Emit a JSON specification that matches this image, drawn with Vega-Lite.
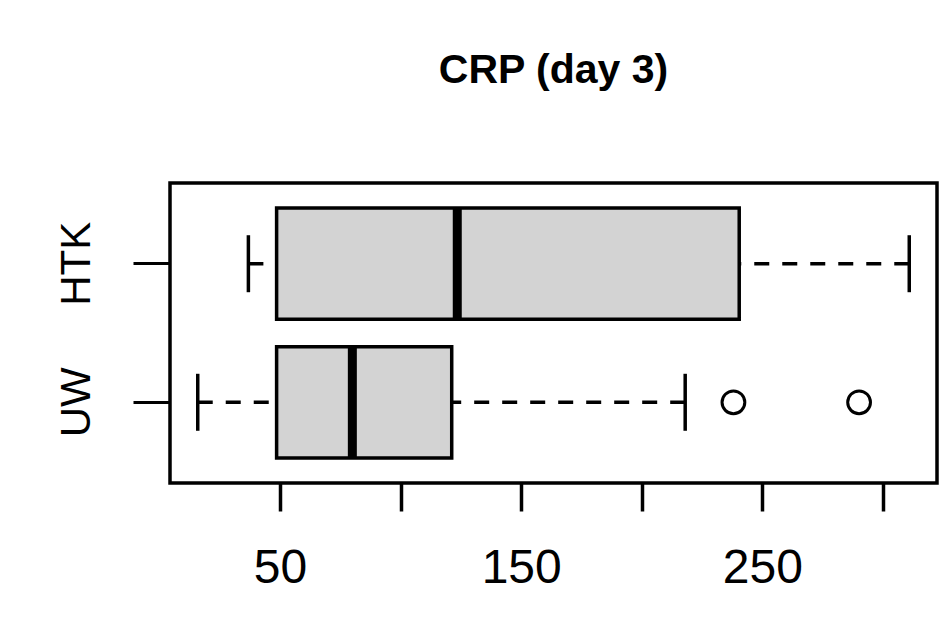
{
  "$schema": "https://vega.github.io/schema/vega-lite/v6.json",
  "autosize": "none",
  "width": 767,
  "height": 300,
  "padding": {"left": 170, "top": 183, "right": 8, "bottom": 144},
  "background": "white",
  "config": {
    "font": "Liberation Sans",
    "view": {"stroke": "black", "strokeWidth": 3.5}
  },
  "title": {
    "text": "CRP (day 3)",
    "font": "Liberation Sans",
    "fontSize": 41,
    "fontWeight": "bold",
    "color": "black",
    "anchor": "middle",
    "frame": "group",
    "baseline": "alphabetic",
    "offset": 59
  },
  "datasets": {
    "boxes": [
      {"group": "HTK", "lo": 36.9, "q1": 48.6, "med": 123.5, "q3": 240.4, "hi": 310.9},
      {"group": "UW", "lo": 15.9, "q1": 48.6, "med": 80.0, "q3": 121.2, "hi": 218.0}
    ],
    "outliers": [
      {"group": "UW", "value": 238.0},
      {"group": "UW", "value": 290.1}
    ]
  },
  "data": {"name": "boxes"},
  "encoding": {
    "y": {
      "field": "group",
      "type": "nominal",
      "sort": ["HTK", "UW"],
      "scale": {"domain": ["HTK", "UW"], "paddingInner": 0.197, "paddingOuter": 0.181},
      "axis": {
        "title": null,
        "domain": false,
        "ticks": true,
        "tickSize": 37,
        "tickWidth": 3,
        "tickColor": "black",
        "labelAngle": -90,
        "labelAlign": "center",
        "labelBaseline": "alphabetic",
        "labelPadding": 44,
        "labelFontSize": 42,
        "labelColor": "black",
        "labelFont": "Liberation Sans"
      }
    }
  },
  "layer": [
    {
      "mark": {"type": "rule", "strokeDash": [15, 13], "strokeWidth": 3.5, "color": "black"},
      "encoding": {
        "x": {
          "field": "lo",
          "type": "quantitative",
          "scale": {"domain": [4.4, 322.4], "nice": false, "zero": false},
          "axis": {
            "title": null,
            "values": [50, 100, 150, 200, 250, 300],
            "domain": false,
            "grid": false,
            "tickSize": 28,
            "tickWidth": 3.5,
            "tickColor": "black",
            "labelExpr": "datum.value % 100 == 50 ? datum.label : ''",
            "labelFontSize": 48,
            "labelColor": "black",
            "labelFont": "Liberation Sans",
            "labelPadding": 33,
            "labelBaseline": "top",
            "labelFlush": false,
            "labelOverlap": false
          }
        },
        "x2": {"field": "q1"}
      }
    },
    {
      "mark": {"type": "rule", "strokeDash": [15, 13], "strokeWidth": 3.5, "color": "black"},
      "encoding": {
        "x": {"field": "hi", "type": "quantitative"},
        "x2": {"field": "q3"}
      }
    },
    {
      "mark": {"type": "tick", "size": 57, "thickness": 3.5, "color": "black", "opacity": 1},
      "encoding": {"x": {"field": "lo", "type": "quantitative"}}
    },
    {
      "mark": {"type": "tick", "size": 57, "thickness": 3.5, "color": "black", "opacity": 1},
      "encoding": {"x": {"field": "hi", "type": "quantitative"}}
    },
    {
      "mark": {"type": "bar", "fill": "#d3d3d3", "stroke": "black", "strokeWidth": 3.5, "opacity": 1},
      "encoding": {
        "x": {"field": "q1", "type": "quantitative"},
        "x2": {"field": "q3"}
      }
    },
    {
      "mark": {"type": "tick", "size": 110, "thickness": 9, "color": "black", "opacity": 1},
      "encoding": {"x": {"field": "med", "type": "quantitative"}}
    },
    {
      "data": {"name": "outliers"},
      "mark": {"type": "point", "shape": "circle", "filled": false, "stroke": "black", "strokeWidth": 3, "size": 520, "opacity": 1},
      "encoding": {
        "x": {"field": "value", "type": "quantitative"},
        "y": {"field": "group", "type": "nominal"}
      }
    }
  ]
}
